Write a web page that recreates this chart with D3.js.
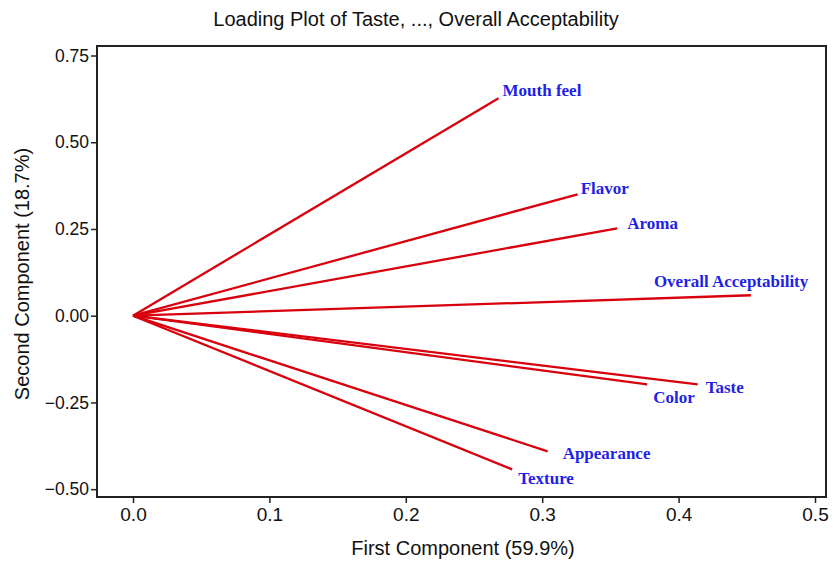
<!DOCTYPE html>
<html>
<head>
<meta charset="utf-8">
<script src="https://cdn.jsdelivr.net/npm/d3@7"></script>
<style>
	body { margin: 0; background: #fff; }
	text { font-family: "Liberation Sans", Arial, sans-serif; }
</style>
</head>
<body>
<div id="chart"></div>
<script>
// loadings
var variables = ["Mouth feel", "Flavor", "Aroma", "Overall Acceptability", "Taste", "Color", "Appearance", "Texture"];
var pc1 = [0.268, 0.326, 0.355, 0.453, 0.414, 0.377, 0.304, 0.278];
var pc2 = [0.627, 0.350, 0.252, 0.059, -0.198, -0.198, -0.391, -0.443];

var xTicks = [0.0, 0.1, 0.2, 0.3, 0.4, 0.5];
var yTicks = [-0.50, -0.25, 0.00, 0.25, 0.50, 0.75];

// label nudges (px) so text sits like the original
var labelNudge = {
	"Mouth feel": [4, -8],
	"Flavor": [3, -6],
	"Aroma": [10, -5],
	"Overall Acceptability": [-97, -14],
	"Taste": [8, 3],
	"Color": [6, 13],
	"Appearance": [15, 2],
	"Texture": [6, 9]
};

var layout = { w: 835, h: 561, left: 97, right: 826, top: 46, bottom: 497 };

var svg = d3.select("#chart").append("svg")
	.attr("width", layout.w)
	.attr("height", layout.h);

var xScale = d3.scaleLinear().domain([0, 0.5]).range([133, 815]);
var yScale = d3.scaleLinear().domain([0, 0.75]).range([315.7, 55.5]);

// frame
svg.append("rect")
	.attr("x", layout.left)
	.attr("y", layout.top)
	.attr("width", layout.right - layout.left)
	.attr("height", layout.bottom - layout.top)
	.style("fill", "none")
	.style("stroke", "#222")
	.style("stroke-width", 2);

var xAxis = svg.append("g")
	.attr("transform", "translate(0," + layout.bottom + ")")
	.call(d3.axisBottom(xScale).tickValues(xTicks).tickFormat(d3.format(".1f")).tickSize(6).tickPadding(5));
var yAxis = svg.append("g")
	.attr("transform", "translate(" + layout.left + ",0)")
	.call(d3.axisLeft(yScale).tickValues(yTicks).tickFormat(d3.format(".2f")).tickSize(6).tickPadding(2));

[xAxis, yAxis].forEach(function(a){
	a.select(".domain").remove();
	a.selectAll("line").style("stroke", "#222").style("stroke-width", 1.5);
	a.selectAll("text")
		.style("font-family", "'Liberation Sans', Arial, sans-serif")
		.style("fill", "#111");
});
xAxis.selectAll("text").style("font-size", "19px");
yAxis.selectAll("text").style("font-size", "17.5px");

// loading lines
var lines = svg.append("g")
	.selectAll("line")
	.data(variables)
	.enter().append("line")
	.attr("x1", xScale(0))
	.attr("y1", yScale(0))
	.attr("x2", function(d, i){ return xScale(pc1[i]); })
	.attr("y2", function(d, i){ return yScale(pc2[i]); })
	.style("stroke", "#d9000d")
	.style("stroke-width", 2.3);

var labels = svg.append("g")
	.selectAll("text")
	.data(variables)
	.enter().append("text")
	.attr("x", function(d, i){ return xScale(pc1[i]) + labelNudge[d][0]; })
	.attr("y", function(d, i){ return yScale(pc2[i]) + labelNudge[d][1]; })
	.attr("dy", "0.35em")
	.style("font-family", "'Liberation Serif', 'Times New Roman', serif")
	.style("font-weight", "bold")
	.style("font-size", "17px")
	.style("fill", "#1f1fe8")
	.text(function(d){ return d; });

// titles
svg.append("text")
	.attr("x", 416)
	.attr("y", 26)
	.attr("text-anchor", "middle")
	.style("font-size", "20px")
	.style("fill", "#111")
	.text("Loading Plot of Taste, ..., Overall Acceptability");

svg.append("text")
	.attr("x", 463)
	.attr("y", 555)
	.attr("text-anchor", "middle")
	.style("font-size", "20px")
	.style("fill", "#111")
	.text("First Component (59.9%)");

svg.append("text")
	.attr("transform", "translate(29,274) rotate(-90)")
	.attr("text-anchor", "middle")
	.style("font-size", "20px")
	.style("fill", "#111")
	.text("Second Component (18.7%)");
</script>
</body>
</html>
